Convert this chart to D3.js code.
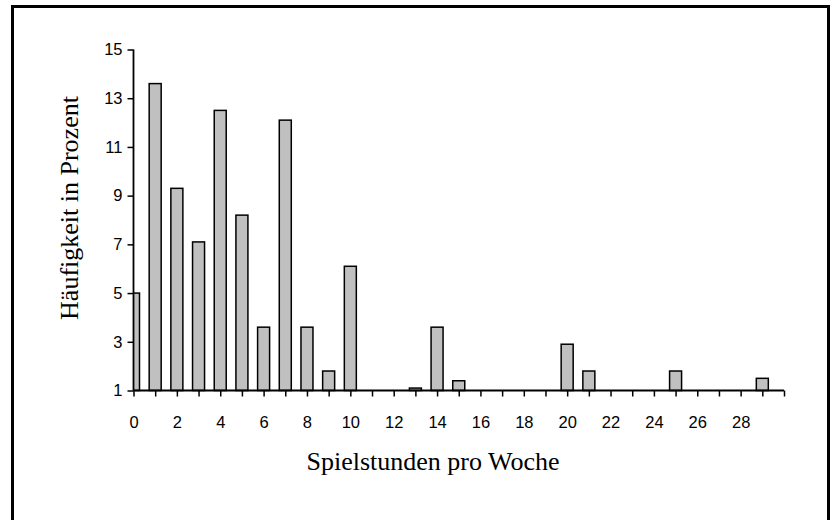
<!DOCTYPE html>
<html><head><meta charset="utf-8">
<script src="https://cdn.jsdelivr.net/npm/d3@7"></script>
<style>body{margin:0;background:#fff}svg{display:block}</style>
</head><body>
<script>
const hours = [0,1,2,3,4,5,6,7,8,9,10,13,14,15,20,21,25,29];
const percent = [5.0,13.6,9.3,7.1,12.5,8.2,3.6,12.1,3.6,1.8,6.1,1.1,3.6,1.4,2.9,1.8,1.8,1.5];
const xTickValues = d3.range(0,31,1);
const xTickLabels = [0,2,4,6,8,10,12,14,16,18,20,22,24,26,28];
const yTickValues = [1,3,5,7,9,11,13,15];
const xTitle = "Spielstunden pro Woche";
const yTitle = "Häufigkeit in Prozent";

const W = 833, H = 520;
const svg = d3.select("body").append("svg").attr("width", W).attr("height", H);
svg.append("rect").attr("x",12.5).attr("y",6.5).attr("width",816).attr("height",540)
  .attr("fill","none").attr("stroke","#000").attr("stroke-width",3);

const x = d3.scaleLinear().domain([0,30]).range([133.5,784]);
const y = d3.scaleLinear().domain([1,15]).range([390.5,49.5]);
const bw = 12;

svg.append("clipPath").attr("id","clip").append("rect")
  .attr("x",x(0)).attr("y",0).attr("width",x(30)-x(0)).attr("height",H);

svg.append("g").attr("clip-path","url(#clip)").selectAll("rect").data(hours).join("rect")
  .attr("x",(d)=>x(d)-bw/2).attr("width",bw)
  .attr("y",(d,i)=>y(percent[i])).attr("height",(d,i)=>y(1)-y(percent[i]))
  .attr("fill","#c0c0c0").attr("stroke","#000").attr("stroke-width",1.5);

const xAxis = svg.append("g").attr("transform",`translate(0,${y(1)})`)
  .call(d3.axisBottom(x).tickValues(xTickValues).tickSize(6).tickPadding(20)
    .tickFormat(d => xTickLabels.includes(d) ? d : ""));
xAxis.select(".domain").attr("stroke-width",1.8).attr("d",`M${x(0)},0H${x(30)}`);
xAxis.selectAll(".tick line").attr("stroke-width",1.5);
xAxis.selectAll("text").attr("font-family","Liberation Sans, Arial, sans-serif").attr("font-size",16.5).attr("fill","#000");

const yAxis = svg.append("g").attr("transform",`translate(${x(0)},0)`)
  .call(d3.axisLeft(y).tickValues(yTickValues).tickSize(6).tickPadding(5));
yAxis.select(".domain").attr("stroke-width",1.8).attr("d",`M0,${y(15)}V${y(1)}`);
yAxis.selectAll(".tick line").attr("stroke-width",1.5);
yAxis.selectAll("text").attr("font-family","Liberation Sans, Arial, sans-serif").attr("font-size",16.5).attr("fill","#000");

svg.append("text").attr("x",433).attr("y",470).attr("text-anchor","middle")
  .attr("font-family","Liberation Serif, Times New Roman, serif").attr("font-size",26).text(xTitle);
svg.append("text").attr("transform","translate(78,208) rotate(-90)").attr("text-anchor","middle")
  .attr("font-family","Liberation Serif, Times New Roman, serif").attr("font-size",26).text(yTitle);
</script>
</body></html>
